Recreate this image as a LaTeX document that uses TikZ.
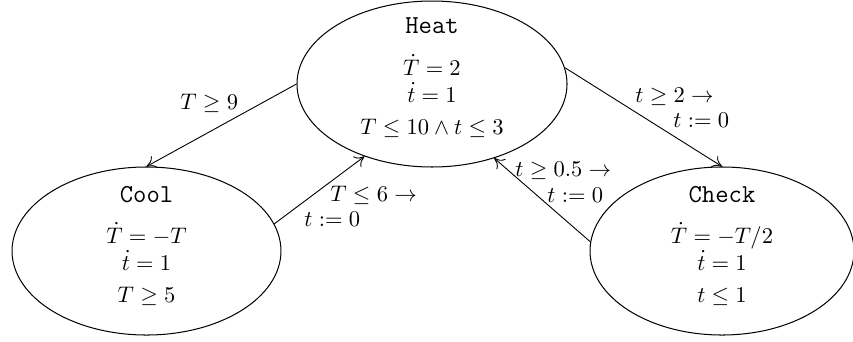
\documentclass[tikz,border=0pt]{standalone}
\usetikzlibrary{shapes.geometric,arrows.meta}
\begin{document}
\begin{tikzpicture}[x=0.444pt,y=-0.444pt,
  state/.style={draw, ellipse, inner sep=0pt, line width=0.45pt},
  ttl/.style={font=\fontsize{11.5}{14}\selectfont\ttfamily, anchor=base, inner sep=0pt},
  eq/.style={anchor=base, inner sep=0pt},
  lbl/.style={anchor=base west, inner sep=0pt},
  trans/.style={-{To[length=4.2pt,width=6pt]}, line width=0.4pt}]
\useasboundingbox (0,0) rectangle (853,341);
% states
\node[state, minimum width=119.9pt, minimum height=73.7pt] (heat) at (432,84) {};
\node[state, minimum width=119.4pt, minimum height=74.6pt] (cool) at (146.5,251) {};
\node[state, minimum width=117.2pt, minimum height=74.6pt] (check) at (722,251) {};
% Heat text
\node[ttl] (heatname) at (432,33) {Heat};
\node[eq] (heatf1) at (432,75) {$\dot{T} = 2$};
\node[eq] (heatf2) at (432,102) {$\dot{t} = 1$};
\node[eq] (heatinv) at (432,134) {$T \le 10 \land t \le 3$};
% Cool text
\node[ttl] (coolname) at (146.5,202) {Cool};
\node[eq] (coolf1) at (146.5,243) {$\dot{T} = -T$};
\node[eq] (coolf2) at (146.5,270) {$\dot{t} = 1$};
\node[eq] (coolinv) at (146.5,302) {$T \ge 5$};
% Check text
\node[ttl] (checkname) at (722,202) {Check};
\node[eq] (checkf1) at (722,243) {$\dot{T} = -T/2$};
\node[eq] (checkf2) at (722,270) {$\dot{t} = 1$};
\node[eq] (checkinv) at (722,302) {$t \le 1$};
% transitions
\draw[trans] (heat.180) -- (cool.90);
\draw[trans] (cool.12) -- (heat.227);
\draw[trans] (heat.7) -- (check.90);
\draw[trans] (check.176) -- (heat.310);
% labels
\node[lbl] (l1) at (180,109) {$T \ge 9$};
\node[lbl] (l2a) at (330,201) {$T \le 6 \rightarrow$};
\node[lbl] (l2b) at (304,226) {$t := 0$};
\node[lbl] (l3a) at (635,102) {$t \ge 2 \rightarrow$};
\node[lbl] (l3b) at (673,127) {$t := 0$};
\node[lbl] (l4a) at (515,176) {$t \ge 0.5 \rightarrow$};
\node[lbl] (l4b) at (547,202) {$t := 0$};
\end{tikzpicture}
\end{document}
